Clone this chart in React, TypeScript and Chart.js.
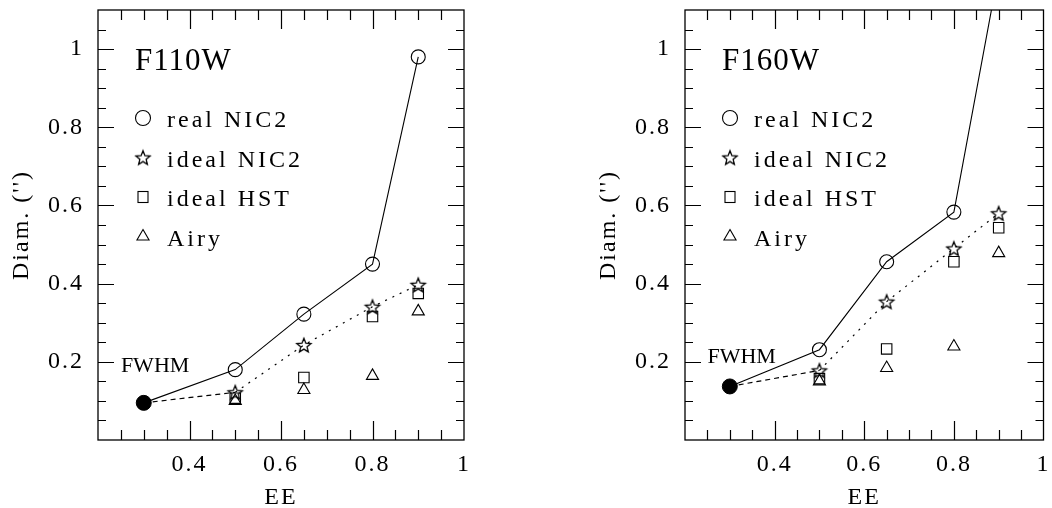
import React, { useEffect, useRef } from "react";
import { Chart, registerables } from "chart.js";

Chart.register(...registerables);

// ---------- data ----------
const FWHM_EE = 0.3;
const EE_LEVELS = [0.5, 0.65, 0.8, 0.9];
const LEGEND_LABELS = ["real NIC2", "ideal NIC2", "ideal HST", "Airy"];
const X_TICK_LABELS = [0.4, 0.6, 0.8, 1];
const Y_TICK_LABELS = [0.2, 0.4, 0.6, 0.8, 1];

const F110W_FWHM = 0.095;
const F110W_REAL = [0.18, 0.322, 0.45, 0.98];
const F110W_IDEAL_NIC2 = [0.122, 0.243, 0.341, 0.397];
const F110W_IDEAL_HST = [0.107, 0.16, 0.316, 0.375];
const F110W_AIRY = [0.1, 0.128, 0.164, 0.329];

const F160W_FWHM = 0.137;
const F160W_REAL = [0.231, 0.456, 0.583, 1.2];
const F160W_IDEAL_NIC2 = [0.178, 0.354, 0.49, 0.58];
const F160W_IDEAL_HST = [0.157, 0.233, 0.456, 0.543];
const F160W_AIRY = [0.15, 0.184, 0.239, 0.478];

const FONT = "'Liberation Serif', 'Times New Roman', serif";

// ---------- marker helpers ----------
function starPath(g: CanvasRenderingContext2D, cx: number, cy: number, ro: number, ri: number) {
  g.beginPath();
  for (let i = 0; i < 10; i++) {
    const r = i % 2 === 0 ? ro : ri;
    const a = -Math.PI / 2 + (i * Math.PI) / 5;
    const px = cx + r * Math.cos(a);
    const py = cy + r * Math.sin(a) + 0.8;
    if (i === 0) g.moveTo(px, py);
    else g.lineTo(px, py);
  }
  g.closePath();
}

function makeStar(): HTMLCanvasElement {
  const size = 20;
  const c = document.createElement("canvas");
  c.width = size;
  c.height = size;
  const g = c.getContext("2d")!;
  starPath(g, size / 2, size / 2, 7.5, 3.3);
  g.strokeStyle = "#000";
  g.lineWidth = 1.3;
  g.stroke();
  return c;
}

function drawMarker(g: CanvasRenderingContext2D, kind: number, x: number, y: number, star: HTMLCanvasElement) {
  g.save();
  g.strokeStyle = "#000";
  g.lineWidth = 1.1;
  if (kind === 0) {
    g.beginPath();
    g.arc(x, y, 7.5, 0, Math.PI * 2);
    g.stroke();
  } else if (kind === 1) {
    g.drawImage(star, x - star.width / 2, y - star.height / 2);
  } else if (kind === 2) {
    g.strokeRect(x - 5, y - 5.5, 10, 11);
  } else {
    const r = 7;
    g.beginPath();
    g.moveTo(x, y - r);
    g.lineTo(x + r * Math.sin((2 * Math.PI) / 3), y - r * Math.cos((2 * Math.PI) / 3));
    g.lineTo(x + r * Math.sin((4 * Math.PI) / 3), y - r * Math.cos((4 * Math.PI) / 3));
    g.closePath();
    g.stroke();
  }
  g.restore();
}

function labelFor(v: number, list: number[]) {
  return list.some((l) => Math.abs(l - v) < 1e-6) ? String(Math.round(v * 10) / 10) : "";
}

function isMajor(v: number) {
  const q = v / 0.2;
  return Math.abs(q - Math.round(q)) < 1e-6;
}

type PanelProps = {
  title: string;
  fwhm: number;
  fwhmLabelY: number;
  real: number[];
  idealNic2: number[];
  idealHst: number[];
  airy: number[];
  padLeft: number;
  padRight: number;
  left: number;
};

function Panel(p: PanelProps) {
  const ref = useRef<HTMLCanvasElement>(null);

  useEffect(() => {
    const canvas = ref.current;
    if (!canvas) return;
    const star = makeStar();
    const withStart = (arr: number[]) => [
      { x: FWHM_EE, y: p.fwhm },
      ...arr.map((y, i) => ({ x: EE_LEVELS[i], y })),
    ];
    const pts = (arr: number[]) => arr.map((y, i) => ({ x: EE_LEVELS[i], y }));

    const framePlugin = {
      id: "frameAndText",
      beforeDraw(chart: any) {
        (chart.ctx as any).letterSpacing = "2px";
      },
      afterDraw(chart: any) {
        const g: CanvasRenderingContext2D = chart.ctx;
        const a = chart.chartArea;
        const xs = chart.scales.x;
        const ys = chart.scales.y;
        g.save();
        (g as any).letterSpacing = "0px";
        g.strokeStyle = "#000";
        g.lineWidth = 1.3;
        g.strokeRect(a.left, a.top, a.right - a.left, a.bottom - a.top);
        g.lineWidth = 1.2;
        g.beginPath();
        for (const t of xs.ticks) {
          const v = t.value;
          if (v <= xs.min + 1e-6 || v >= xs.max - 1e-6) continue;
          const px = Math.round(xs.getPixelForValue(v)) + 0.5;
          const len = isMajor(v) ? 19 : 10;
          g.moveTo(px, a.bottom);
          g.lineTo(px, a.bottom - len);
          g.moveTo(px, a.top);
          g.lineTo(px, a.top + len);
        }
        for (const t of ys.ticks) {
          const v = t.value;
          if (v <= ys.min + 1e-6 || v >= ys.max - 1e-6) continue;
          const py = Math.round(ys.getPixelForValue(v)) + 0.5;
          const len = isMajor(v) ? 16 : 8;
          g.moveTo(a.left, py);
          g.lineTo(a.left + len, py);
          g.moveTo(a.right, py);
          g.lineTo(a.right - len, py);
        }
        g.stroke();

        // panel title
        g.fillStyle = "#000";
        g.textAlign = "left";
        g.textBaseline = "alphabetic";
        (g as any).letterSpacing = "1px";
        g.font = `31px ${FONT}`;
        g.fillText(p.title, a.left + 37, a.top + 60);

        // FWHM label
        g.font = `22px ${FONT}`;
        (g as any).letterSpacing = "0px";
        g.fillText("FWHM", xs.getPixelForValue(0.25), ys.getPixelForValue(p.fwhmLabelY));

        // legend
        (g as any).letterSpacing = "3px";
        g.font = `24px ${FONT}`;
        LEGEND_LABELS.forEach((lab, i) => {
          const my = a.top + 108 + i * 39.5;
          drawMarker(g, i, a.left + 45, my, star);
          g.fillText(lab, a.left + 69, my + 9);
        });
        g.restore();
      },
    };

    const tickFont = { family: FONT, size: 24 };
    const chart = new Chart(canvas, {
      type: "scatter",
      data: {
        datasets: [
          {
            label: "real NIC2",
            data: withStart(p.real),
            showLine: true,
            borderColor: "#000",
            borderWidth: 1.1,
            pointStyle: "circle",
            pointRadius: [0, 7, 7, 7, 7],
            pointBorderWidth: 1.1,
            pointBorderColor: "#000",
            pointBackgroundColor: "rgba(0,0,0,0)",
          },
          {
            label: "ideal NIC2",
            data: withStart(p.idealNic2),
            showLine: true,
            borderColor: "#000",
            borderWidth: 1.2,
            segment: {
              borderDash: (c: any) => (c.p0DataIndex === 0 ? [5, 4] : [2, 6]),
            },
            pointStyle: star as any,
            pointRadius: [0, 7, 7, 7, 7],
            pointBorderColor: "#000",
            pointBackgroundColor: "rgba(0,0,0,0)",
          },
          {
            label: "ideal HST",
            data: pts(p.idealHst),
            showLine: false,
            pointStyle: "rect",
            pointRadius: 7.4,
            pointBorderWidth: 1.1,
            pointBorderColor: "#000",
            pointBackgroundColor: "rgba(0,0,0,0)",
          },
          {
            label: "Airy",
            data: pts(p.airy),
            showLine: false,
            pointStyle: "triangle",
            pointRadius: 7,
            pointBorderWidth: 1.1,
            pointBorderColor: "#000",
            pointBackgroundColor: "rgba(0,0,0,0)",
          },
          {
            label: "FWHM",
            data: [{ x: FWHM_EE, y: p.fwhm }],
            showLine: false,
            pointStyle: "circle",
            pointRadius: 7.5,
            pointBorderWidth: 1,
            pointBorderColor: "#000",
            pointBackgroundColor: "#000",
          },
        ] as any,
      },
      options: {
        animation: false,
        responsive: false,
        events: [],
        layout: { padding: { left: p.padLeft, right: p.padRight, top: 10, bottom: 0 } },
        plugins: { legend: { display: false }, tooltip: { enabled: false } },
        scales: {
          x: {
            type: "linear",
            min: 0.2,
            max: 1.0,
            ticks: {
              stepSize: 0.05,
              autoSkip: false,
              maxRotation: 0,
              minRotation: 0,
              padding: 10,
              color: "#000",
              font: tickFont,
              callback: (v: any) => labelFor(Number(v), X_TICK_LABELS),
            },
            grid: { display: false, drawTicks: false },
            border: { display: false },
            title: {
              display: true,
              text: "EE",
              color: "#000",
              font: { family: FONT, size: 24, lineHeight: 0.85 },
              padding: 0,
            },
            afterFit: (s: any) => {
              s.height = 68;
              s.paddingLeft = 0;
              s.paddingRight = 0;
            },
          },
          y: {
            type: "linear",
            min: 0,
            max: 1.1,
            ticks: {
              stepSize: 0.05,
              autoSkip: false,
              padding: 14,
              color: "#000",
              font: tickFont,
              callback: (v: any) => labelFor(Number(v), Y_TICK_LABELS),
            },
            grid: { display: false, drawTicks: false },
            border: { display: false },
            title: {
              display: true,
              text: "Diam. ('')",
              color: "#000",
              font: { family: FONT, size: 24, lineHeight: 1 },
              padding: { top: 10, bottom: 0 },
            },
            afterFit: (s: any) => {
              s.width = 98;
              s.paddingTop = 0;
              s.paddingBottom = 0;
            },
          },
        },
      } as any,
      plugins: [framePlugin as any],
    });
    return () => chart.destroy();
  }, []);

  return (
    <canvas
      ref={ref}
      width={526}
      height={508}
      style={{ position: "absolute", left: p.left, top: 0, width: 526, height: 508, display: "block" }}
    />
  );
}

export default function App() {
  return (
    <div style={{ position: "fixed", left: 0, top: 0, width: 1052, height: 508, background: "#fff", overflow: "hidden" }}>
      <Panel
        title="F110W"
        fwhm={F110W_FWHM}
        fwhmLabelY={0.174}
        real={F110W_REAL}
        idealNic2={F110W_IDEAL_NIC2}
        idealHst={F110W_IDEAL_HST}
        airy={F110W_AIRY}
        padLeft={0}
        padRight={62}
        left={0}
      />
      <Panel
        title="F160W"
        fwhm={F160W_FWHM}
        fwhmLabelY={0.197}
        real={F160W_REAL}
        idealNic2={F160W_IDEAL_NIC2}
        idealHst={F160W_IDEAL_HST}
        airy={F160W_AIRY}
        padLeft={61}
        padRight={2}
        left={526}
      />
    </div>
  );
}
